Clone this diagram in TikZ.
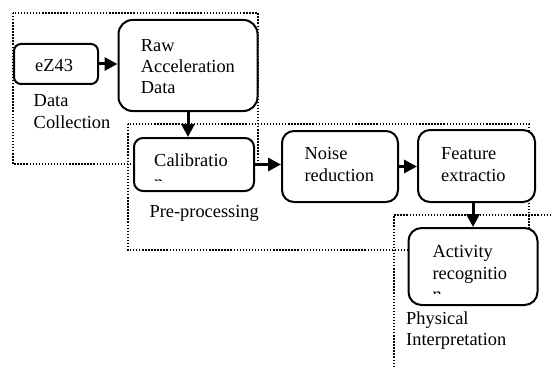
\documentclass[tikz,border=0pt]{standalone}
\usepackage{fontspec}
\setmainfont{Liberation Serif}
\usepackage{tikz}
\usetikzlibrary{arrows.meta}

\begin{document}
\begin{tikzpicture}[x=0.3mm, y=-0.3mm,
    font=\fontsize{15.7pt}{18.35pt}\selectfont,
    stage/.style={draw, line width=0.6mm, fill=white, inner sep=0pt},
    txt/.style={anchor=base west, align=left, inner sep=0pt},
    group/.style={line width=1.3pt, dash pattern=on 1.2pt off 1.4pt},
    flow/.style={-{Triangle[length=3.9mm, width=3.9mm]}, line width=0.9mm}]
    \useasboundingbox (0,0) rectangle (551,367);

    % Dotted frames round each phase
    \draw[group] (13,13) rectangle (258,164);
    \draw[group] (128,124) rectangle (529,250);
    \draw[group] (394,367) -- (394,215) -- (551,215);

    % Stages
    \node[stage, rounded corners=2.1mm, minimum width=25.2mm, minimum height=12mm] (ez) at (56,64) {};
    \node[stage, rounded corners=4.2mm, minimum width=41.7mm, minimum height=27.3mm] (raw) at (188,65.5) {};
    \node[stage, rounded corners=2.7mm, minimum width=36mm, minimum height=15.9mm] (calib) at (194,164.5) {};
    \node[stage, rounded corners=3.6mm, minimum width=34.8mm, minimum height=21.3mm] (noise) at (340,166.5) {};
    \node[stage, rounded corners=3.6mm, minimum width=35.1mm, minimum height=21.6mm] (feat) at (476.5,166) {};
    \node[stage, rounded corners=3.9mm, minimum width=38.7mm, minimum height=23.1mm] (act) at (473,266.5) {};

    % Text in the stages (base = baseline of the last line)
    \node[txt] (ezText) at (35,71.5) {eZ43};
    \node[txt] (rawText) at (140.7,94) {Raw\\Acceleration\\Data};
    \node[txt] (calibText) at (154,166.7) {Calibratio};
    \node[txt] (noiseText) at (304.3,181) {Noise\\reduction};
    \node[txt] (featText) at (441,181) {Feature\\extractio};
    \node[txt] (actText) at (432.3,279) {Activity\\recognitio};

    % wrapped last letters, cut off by the text box
    \begin{scope}
        \clip (132,137) rectangle (256,180.8);
        \node[txt] (calibTail) at (154,188.2) {n};
    \end{scope}
    \begin{scope}
        \clip (408,227) rectangle (538,293.2);
        \node[txt] (actTail) at (432.3,300.5) {n};
    \end{scope}

    % Phase labels
    \node[txt] (dcLabel) at (33.5,128) {Data\\Collection};
    \node[txt] (ppLabel) at (149.3,217) {Pre-processing};
    \node[txt] (piLabel) at (406,345.7) {Physical\\Interpretation};

    % Flow between stages
    \draw[flow] (ez.east) -- (ez.east -| raw.west);
    \draw[flow] (raw.south) -- (raw.south |- calib.north);
    \draw[flow] (calib.east) -- (calib.east -| noise.west);
    \draw[flow] (noise.east) -- (noise.east -| feat.west);
    \draw[flow] (act.north |- feat.south) -- (act.north);
\end{tikzpicture}
\end{document}
